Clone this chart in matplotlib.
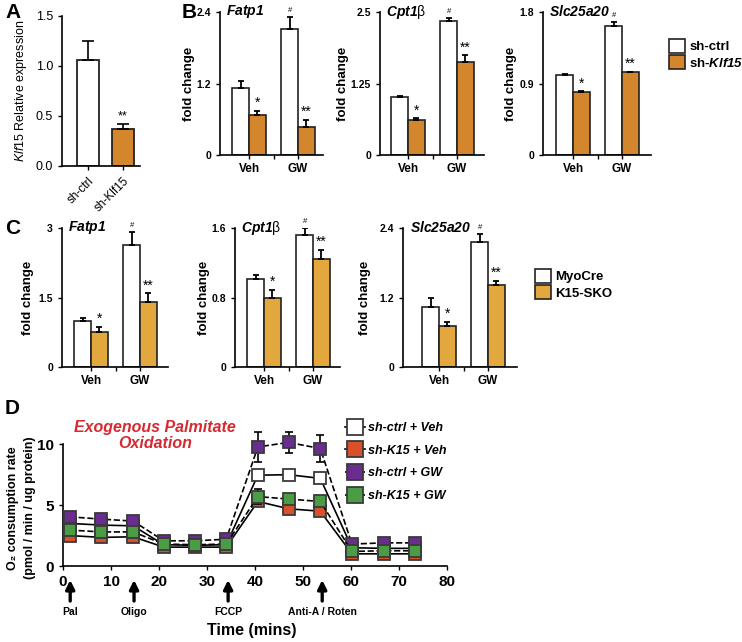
import matplotlib.pyplot as plt
from matplotlib.patches import Patch
from matplotlib.lines import Line2D

plt.rcParams['font.family'] = ['Liberation Sans', 'DejaVu Sans']
plt.rcParams['mathtext.fontset'] = 'custom'
plt.rcParams['mathtext.rm'] = 'Liberation Sans'
plt.rcParams['mathtext.it'] = 'Liberation Sans:italic'
plt.rcParams['mathtext.bf'] = 'Liberation Sans:bold'
plt.rcParams['mathtext.bfit'] = 'Liberation Sans:italic:bold'

# ---- Daten ----
a_labels = ['sh-ctrl', 'sh-Klf15']
a_mean = [1.06, 0.37]
a_sem = [0.19, 0.05]

groups = ['Veh', 'GW']

b_genes = [r'$\mathbfit{Fatp1}$', r'$\mathbfit{Cpt1}$β', r'$\mathbfit{Slc25a20}$']
b_ymax = [2.4, 2.5, 1.8]
b_ticks = [['0', '1.2', '2.4'], ['0', '1.25', '2.5'], ['0', '0.9', '1.8']]
b_ctrl_mean = [[1.12, 2.11], [1.01, 2.34], [1.01, 1.62]]
b_ctrl_sem = [[0.12, 0.21], [0.02, 0.05], [0.01, 0.05]]
b_ko_mean = [[0.67, 0.47], [0.61, 1.63], [0.79, 1.04]]
b_ko_sem = [[0.07, 0.12], [0.03, 0.11], [0.01, 0.01]]

c_genes = b_genes
c_ymax = [3.0, 1.6, 2.4]
c_ticks = [['0', '1.5', '3'], ['0', '0.8', '1.6'], ['0', '1.2', '2.4']]
c_ctrl_mean = [[1.00, 2.63], [1.01, 1.52], [1.04, 2.15]]
c_ctrl_sem = [[0.06, 0.29], [0.05, 0.08], [0.16, 0.15]]
c_ko_mean = [[0.76, 1.41], [0.80, 1.24], [0.71, 1.42]]
c_ko_sem = [[0.11, 0.18], [0.09, 0.11], [0.07, 0.07]]

d_time = [1.4, 8.0, 14.6, 21.0, 27.5, 34.0, 40.6, 47.0, 53.6, 60.2, 66.8, 73.3]
d_labels = ['sh-ctrl + Veh', 'sh-K15 + Veh', 'sh-ctrl + GW', 'sh-K15 + GW']
d_ctrl_veh = [3.50, 3.36, 3.30, 1.75, 1.70, 1.75, 7.46, 7.50, 7.20, 1.50, 1.45, 1.45]
d_ctrl_veh_sem = [0.2, 0.2, 0.2, 0.1, 0.1, 0.1, 0.25, 0.2, 0.4, 0.1, 0.1, 0.1]
d_k15_veh = [2.50, 2.35, 2.40, 1.55, 1.55, 1.55, 5.30, 4.70, 4.50, 1.00, 1.00, 1.00]
d_k15_veh_sem = [0.1, 0.1, 0.1, 0.1, 0.1, 0.1, 0.4, 0.3, 0.2, 0.1, 0.1, 0.1]
d_ctrl_gw = [4.04, 3.85, 3.69, 2.07, 2.07, 2.20, 9.78, 10.15, 9.65, 1.80, 1.90, 1.90]
d_ctrl_gw_sem = [0.2, 0.2, 0.2, 0.1, 0.1, 0.1, 1.2, 0.85, 1.1, 0.1, 0.1, 0.1]
d_k15_gw = [2.95, 2.80, 2.80, 1.80, 1.75, 1.80, 5.70, 5.50, 5.30, 1.20, 1.25, 1.25]
d_k15_gw_sem = [0.15, 0.15, 0.15, 0.1, 0.1, 0.1, 0.6, 0.3, 0.3, 0.1, 0.1, 0.1]

injections = [1.5, 14.8, 34.4, 54.0]
injection_labels = ['Pal', 'Oligo', 'FCCP', 'Anti-A / Roten']

# ---- Farben ----
orange_b = '#d4862c'
orange_c = '#e2a83e'
edge = '#222222'

W, H = 742, 642
fig = plt.figure(figsize=(W / 100, H / 100), dpi=100)


def rect(l, t, r, b):
    return [l / W, 1 - b / H, (r - l) / W, (b - t) / H]


def style(ax, lw=1.2):
    for s in ['top', 'right']:
        ax.spines[s].set_visible(False)
    for s in ['left', 'bottom']:
        ax.spines[s].set_linewidth(lw)
    ax.tick_params(width=1, length=3, direction='out')


def bar_panel(ax, gene, ymax, ticks, cm, cs, km, ks, color, veh_rel, width_px, lpad):
    spacing = 49.0
    w = 0.34
    x = [0, 1]
    xc = [g - w / 2 for g in x]
    xk = [g + w / 2 for g in x]
    ax.bar(xc, cm, w, color='white', edgecolor=edge, linewidth=1.2, zorder=2)
    ax.bar(xk, km, w, color=color, edgecolor=edge, linewidth=1.2, zorder=2)
    ax.errorbar(xc, cm, yerr=[[0, 0], cs], fmt='none', ecolor='k', elinewidth=1.3,
                capsize=2.5, capthick=1.3, zorder=3)
    ax.errorbar(xk, km, yerr=[[0, 0], ks], fmt='none', ecolor='k', elinewidth=1.3,
                capsize=2.5, capthick=1.3, zorder=3)
    off = ymax * 0.02
    ax.text(xc[1], cm[1] + cs[1] + off, '#', ha='center', va='bottom', fontsize=5.5)
    ax.text(xk[0], km[0] + ks[0] + off * 0.3, '*', ha='center', va='bottom', fontsize=10)
    ax.text(xk[1], km[1] + ks[1] + off * 0.3, '**', ha='center', va='bottom', fontsize=10)
    ax.set_xlim(-veh_rel / spacing, (width_px - veh_rel) / spacing)
    ax.set_ylim(0, ymax)
    ax.set_yticks([0, ymax / 2, ymax])
    ax.set_yticklabels(ticks, fontsize=7.5, fontweight='bold')
    ax.set_xticks(x)
    ax.set_xticklabels(groups, fontsize=8.5, fontweight='bold')
    ax.tick_params(axis='x', length=0, pad=3)
    ax.set_xticks([0.5], minor=True)
    ax.tick_params(axis='x', which='minor', length=3, width=1)
    ax.set_ylabel('fold change', fontsize=9.5, fontweight='bold', labelpad=lpad)
    ax.text(0.06, 1.0, gene, transform=ax.transAxes, fontsize=10, ha='left', va='center')
    style(ax)


# ---- Panel A ----
axA = fig.add_axes(rect(62, 16, 140, 166))
axA.bar([0, 1], a_mean, 0.63, color=['white', orange_b], edgecolor=edge, linewidth=1.3, zorder=2)
axA.errorbar([0, 1], a_mean, yerr=[[0, 0], a_sem], fmt='none', ecolor='k', elinewidth=1.2,
             capsize=4, capthick=1.2, zorder=3)
axA.text(1, a_mean[1] + a_sem[1] + 0.02, '**', ha='center', va='bottom', fontsize=9)
axA.set_xlim(-0.74, 1.49)
axA.set_ylim(0, 1.5)
axA.set_yticks([0, 0.5, 1.0, 1.5])
axA.set_yticklabels(['0.0', '0.5', '1.0', '1.5'], fontsize=9)
axA.set_xticks([0, 1])
axA.set_xticklabels(a_labels, fontsize=8.5, rotation=45, ha='right', rotation_mode='anchor')
axA.set_ylabel(r'$\mathit{Klf15}$ Relative expression', fontsize=9, labelpad=5)
style(axA)

# ---- Panel B ----
b_rects = [(220, 323), (380, 484), (543, 651)]
b_veh_rel = [29, 28, 30]
b_lpad = [1, 1, 2]
for i in range(3):
    ax = fig.add_axes(rect(b_rects[i][0], 12, b_rects[i][1], 155))
    bar_panel(ax, b_genes[i], b_ymax[i], b_ticks[i], b_ctrl_mean[i], b_ctrl_sem[i],
              b_ko_mean[i], b_ko_sem[i], orange_b, b_veh_rel[i],
              b_rects[i][1] - b_rects[i][0], b_lpad[i])

fig.legend(handles=[Patch(facecolor='white', edgecolor=edge, linewidth=1.2, label='sh-ctrl'),
                    Patch(facecolor=orange_b, edgecolor=edge, linewidth=1.2,
                          label=r'sh-$\mathbfit{Klf15}$')],
           loc='upper left', bbox_to_anchor=(664 / W, 1 - 34 / H), frameon=False,
           prop={'weight': 'bold', 'size': 9.5}, handlelength=1.2, handleheight=1.2,
           handletextpad=0.3, labelspacing=0.15, borderaxespad=0)

# ---- Panel C ----
c_rects = [(62, 228, 168), (235, 228, 340), (403, 228, 517)]
c_veh_rel = [29, 29, 36]
c_lpad = [3, 1, 6]
for i in range(3):
    l, t, r = c_rects[i]
    ax = fig.add_axes(rect(l, t, r, 367))
    bar_panel(ax, c_genes[i], c_ymax[i], c_ticks[i], c_ctrl_mean[i], c_ctrl_sem[i],
              c_ko_mean[i], c_ko_sem[i], orange_c, c_veh_rel[i], r - l, c_lpad[i])

fig.legend(handles=[Patch(facecolor='white', edgecolor=edge, linewidth=1.2, label='MyoCre'),
                    Patch(facecolor=orange_c, edgecolor=edge, linewidth=1.2, label='K15-SKO')],
           loc='upper left', bbox_to_anchor=(530 / W, 1 - 264 / H), frameon=False,
           prop={'weight': 'bold', 'size': 9.5}, handlelength=1.2, handleheight=1.2,
           handletextpad=0.3, labelspacing=0.15, borderaxespad=0)

# ---- Panel D ----
axD = fig.add_axes(rect(63, 426, 447, 566))
series = [
    (d_ctrl_veh, d_ctrl_veh_sem, 'white', '-', d_labels[0]),
    (d_k15_veh, d_k15_veh_sem, '#d8512a', '-', d_labels[1]),
    (d_ctrl_gw, d_ctrl_gw_sem, '#6b2c8f', '--', d_labels[2]),
    (d_k15_gw, d_k15_gw_sem, '#4a9c45', '--', d_labels[3]),
]
handles = []
for k, (vals, sem, col, ls, lab) in enumerate(series):
    axD.errorbar(d_time, vals, yerr=sem, fmt='none', ecolor='k', elinewidth=1.2,
                 capsize=3, capthick=1.2, zorder=2 + k, clip_on=False)
    axD.plot(d_time, vals, color='k', linestyle=ls, linewidth=1.2, marker='s',
             markersize=8.5, markerfacecolor=col, markeredgecolor='#3a3a3a',
             markeredgewidth=1.3, zorder=2 + k, clip_on=False)
    handles.append(Line2D([], [], color='k', linestyle=ls, linewidth=1.2, marker='s',
                          markersize=11, markerfacecolor=col, markeredgecolor='#3a3a3a',
                          markeredgewidth=1.3, label=lab))
axD.set_xlim(0, 80)
axD.set_ylim(0, 11.5)
axD.spines['left'].set_bounds(0, 10)
axD.set_xticks(range(0, 81, 10))
axD.set_yticks([0, 5, 10])
axD.tick_params(labelsize=11)
for lbl in axD.get_xticklabels() + axD.get_yticklabels():
    lbl.set_fontweight('bold')
style(axD)
fig.text(13 / W, 1 - 508 / H, 'O₂ consumption rate', rotation=90, ha='center', va='center',
         fontsize=9, fontweight='bold')
fig.text(30 / W, 1 - 508 / H, '(pmol / min / ug protein)', rotation=90, ha='center',
         va='center', fontsize=9, fontweight='bold')
fig.text(252 / W, 1 - 631 / H, 'Time (mins)', ha='center', va='center', fontsize=11.5,
         fontweight='bold')
axD.text(0.24, 0.93, 'Exogenous Palmitate\nOxidation', transform=axD.transAxes,
         ha='center', va='center', fontsize=11.5, fontweight='bold', style='italic',
         color='#d42a32', linespacing=1.1)

for t, lab in zip(injections, injection_labels):
    axD.annotate('', xy=(t, -0.08), xytext=(t, -0.27), xycoords=('data', 'axes fraction'),
                 textcoords=('data', 'axes fraction'),
                 arrowprops=dict(arrowstyle='-|>', color='k', lw=2.4, mutation_scale=13))
    axD.text(t, -0.33, lab, transform=axD.get_xaxis_transform(), ha='center', va='center',
             fontsize=7.5, fontweight='bold')

fig.legend(handles=handles, loc='upper left', bbox_to_anchor=(340 / W, 1 - 417 / H),
           frameon=False, prop={'weight': 'bold', 'style': 'italic', 'size': 9},
           handlelength=1.6, handletextpad=0.2, labelspacing=0.85, borderaxespad=0)

# ---- Panel-Buchstaben ----
for lab, x, y in [('A', 5, 12), ('B', 182, 12), ('C', 5, 228), ('D', 5, 408)]:
    fig.text(x / W, 1 - y / H, lab, fontsize=15, fontweight='bold', ha='left', va='center')

plt.savefig('out.png', dpi=100)
